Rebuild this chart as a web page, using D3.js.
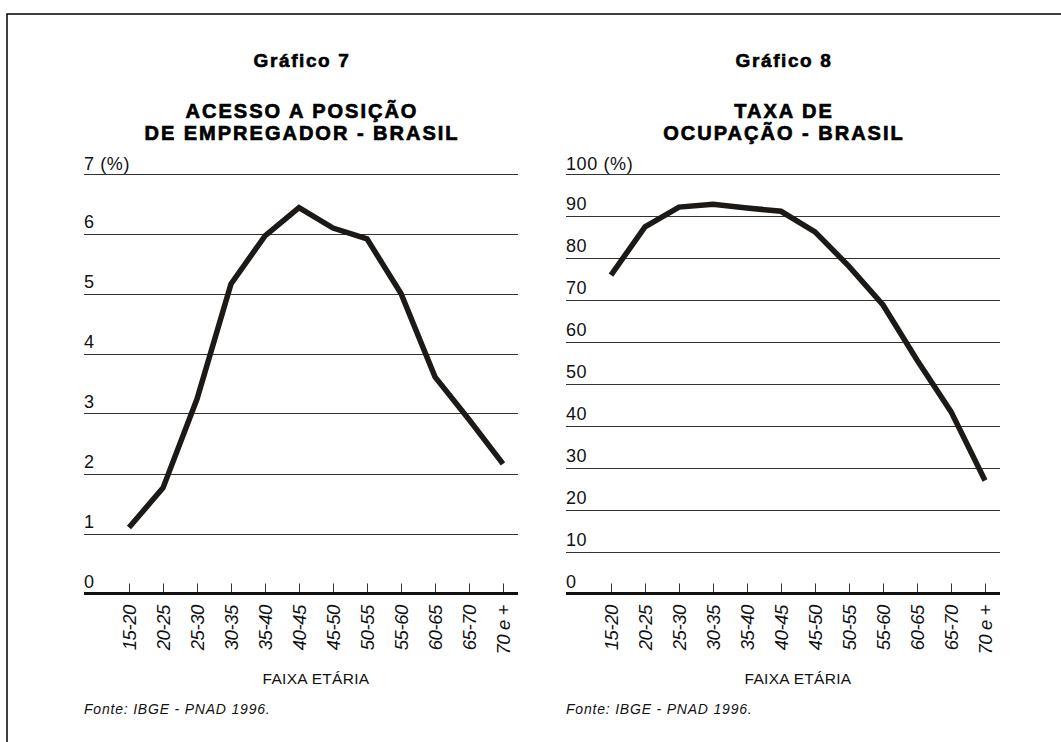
<!DOCTYPE html>
<html>
<head>
<meta charset="utf-8">
<script src="https://cdn.jsdelivr.net/npm/d3@7"></script>
<style>
  body { margin: 0; background: #fff; }
  svg { display: block; font-family: "Liberation Sans", Arial, sans-serif; }
</style>
</head>
<body>
<div id="elements"></div>
<script>
// age groups shared by both charts
var faixas = ["15-20", "20-25", "25-30", "30-35", "35-40", "40-45",
              "45-50", "50-55", "55-60", "60-65", "65-70", "70 e +"];

// Gráfico 7 - acesso a posição de empregador (%)
var empregador = [1.1, 1.76, 3.24, 5.16, 5.96, 6.43, 6.09, 5.91, 5.0, 3.61, 2.9, 2.16];
var ticks7 = [0, 1, 2, 3, 4, 5, 6, 7];

// Gráfico 8 - taxa de ocupação (%)
var ocupacao = [75.8, 87.3, 92.0, 92.7, 91.8, 91.0, 86.1, 77.9, 68.7, 55.6, 43.3, 26.9];
var ticks8 = [0, 10, 20, 30, 40, 50, 60, 70, 80, 90, 100];

var W = 1061, H = 742;

var svg = d3.select("#elements").append("svg")
    .attr("width", W)
    .attr("height", H);

// frame: top and left border only
svg.append("path")
    .attr("d", "M7," + H + "V14H" + W)
    .attr("fill", "none")
    .attr("stroke", "#000")
    .attr("stroke-width", 1.5);

function drawChart(left, grafico, titulo, values, ticks, maxV) {
    var g = svg.append("g");
    var gridRight = left + 434;

    var x = d3.scalePoint()
        .domain(faixas)
        .range([left + 45, left + 419]);
    var y = d3.scaleLinear()
        .domain([0, maxV])
        .range([593.5, 173.5]);

    // headings (a thin stroke makes the bold heavier, like the original)
    g.append("text")
        .attr("x", left + 218)
        .attr("y", 67)
        .attr("text-anchor", "middle")
        .style("font-weight", "bold")
        .style("font-size", "19px")
        .style("letter-spacing", "1.6px")
        .attr("stroke", "#000")
        .attr("stroke-width", 0.6)
        .text(grafico);

    g.append("text")
        .attr("text-anchor", "middle")
        .style("font-weight", "bold")
        .style("font-size", "20px")
        .style("letter-spacing", "2px")
        .attr("stroke", "#000")
        .attr("stroke-width", 0.7)
        .selectAll("tspan")
        .data(titulo)
        .enter()
        .append("tspan")
        .attr("x", left + 218)
        .attr("y", function(d, i) { return 118 + i * 21.5; })
        .text(function(d) { return d; });

    // gridlines (0 is the thick baseline)
    g.append("g")
        .selectAll("line")
        .data(ticks.filter(function(d) { return d > 0; }))
        .enter()
        .append("line")
        .attr("x1", left)
        .attr("x2", gridRight)
        .attr("y1", function(d) { return Math.round(y(d)) + 0.5; })
        .attr("y2", function(d) { return Math.round(y(d)) + 0.5; })
        .attr("stroke", "#333")
        .attr("stroke-width", 1.2);

    g.append("g")
        .selectAll("text")
        .data(ticks)
        .enter()
        .append("text")
        .attr("x", left)
        .attr("y", function(d) { return y(d) - (d === maxV ? 3.5 : 6); })
        .style("font-size", "18px")
        .style("letter-spacing", "0.6px")
        .attr("fill", "#111")
        .text(function(d) { return d === maxV ? d + " (%)" : d; });

    // x ticks
    g.append("g")
        .selectAll("line")
        .data(faixas)
        .enter()
        .append("line")
        .attr("x1", function(d) { return Math.round(x(d)) + 0.5; })
        .attr("x2", function(d) { return Math.round(x(d)) + 0.5; })
        .attr("y1", y(0) - 10)
        .attr("y2", y(0))
        .attr("stroke", "#333")
        .attr("stroke-width", 1);

    g.append("line")
        .attr("x1", left)
        .attr("x2", gridRight)
        .attr("y1", y(0))
        .attr("y2", y(0))
        .attr("stroke", "#111")
        .attr("stroke-width", 3);

    g.append("g")
        .selectAll("text")
        .data(faixas)
        .enter()
        .append("text")
        .attr("transform", function(d) { return "translate(" + x(d) + ",605) rotate(-90)"; })
        .attr("text-anchor", "end")
        .attr("dy", "0.36em")
        .style("font-size", "18.5px")
        .style("font-style", "italic")
        .style("letter-spacing", "-0.4px")
        .attr("fill", "#111")
        .text(function(d) { return d; });

    // series line
    var line = d3.line()
        .x(function(d, i) { return x(faixas[i]); })
        .y(function(d) { return y(d); });

    g.append("path")
        .datum(values)
        .attr("d", line)
        .attr("fill", "none")
        .attr("stroke", "#1c1917")
        .attr("stroke-width", 5.5)
        .attr("stroke-linejoin", "miter")
        .attr("stroke-linecap", "butt");

    // axis title and source
    g.append("text")
        .attr("x", left + 232)
        .attr("y", 684)
        .attr("text-anchor", "middle")
        .style("font-size", "15.5px")
        .style("letter-spacing", "0.3px")
        .attr("fill", "#111")
        .text("FAIXA ETÁRIA");

    g.append("text")
        .attr("x", left)
        .attr("y", 714)
        .style("font-size", "14px")
        .style("font-style", "italic")
        .style("letter-spacing", "0.8px")
        .attr("fill", "#111")
        .text("Fonte: IBGE - PNAD 1996.");
}

drawChart(84, "Gráfico 7", ["ACESSO A POSIÇÃO", "DE EMPREGADOR - BRASIL"], empregador, ticks7, 7);
drawChart(566, "Gráfico 8", ["TAXA DE", "OCUPAÇÃO - BRASIL"], ocupacao, ticks8, 100);
</script>
</body>
</html>
